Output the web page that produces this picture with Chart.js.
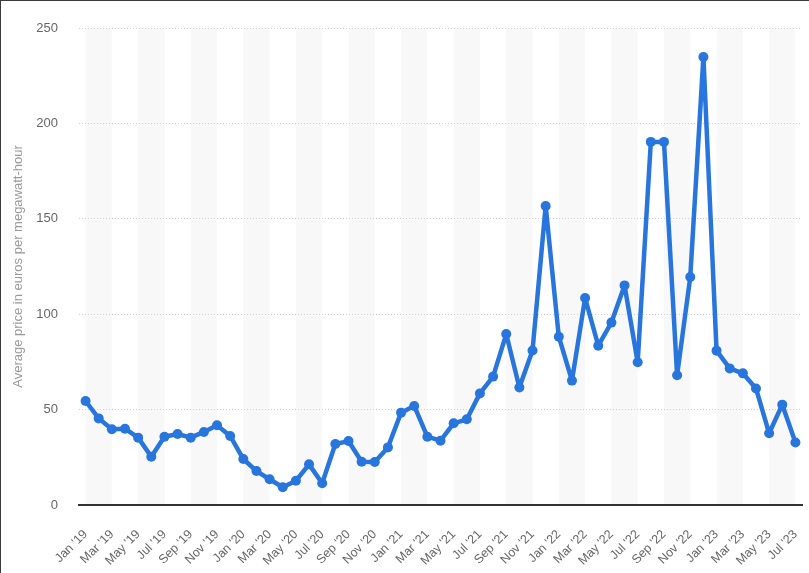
<!DOCTYPE html>
<html>
<head>
<meta charset="utf-8">
<script src="https://cdn.jsdelivr.net/npm/chart.js@4"></script>
<style>
  html, body { margin: 0; padding: 0; background: #fff; }
  #wrap { position: relative; width: 809px; height: 573px; }
  #frame { position: absolute; left: 0; top: 0; right: 0; bottom: 0;
    border-left: 1px solid #3a3a3a; border-top: 1px solid #3a3a3a; pointer-events: none; }
</style>
</head>
<body>
<div id="wrap">
  <canvas id="chart" width="809" height="573"></canvas>
  <div id="frame"></div>
</div>
<script>
// Mesi (Jan '19 - Jul '23)
const months = [
  "Jan '19", "Feb '19", "Mar '19", "Apr '19", "May '19", "Jun '19", "Jul '19", "Aug '19", "Sep '19", "Oct '19", "Nov '19", "Dec '19",
  "Jan '20", "Feb '20", "Mar '20", "Apr '20", "May '20", "Jun '20", "Jul '20", "Aug '20", "Sep '20", "Oct '20", "Nov '20", "Dec '20",
  "Jan '21", "Feb '21", "Mar '21", "Apr '21", "May '21", "Jun '21", "Jul '21", "Aug '21", "Sep '21", "Oct '21", "Nov '21", "Dec '21",
  "Jan '22", "Feb '22", "Mar '22", "Apr '22", "May '22", "Jun '22", "Jul '22", "Aug '22", "Sep '22", "Oct '22", "Nov '22", "Dec '22",
  "Jan '23", "Feb '23", "Mar '23", "Apr '23", "May '23", "Jun '23", "Jul '23"
];

// Prezzo medio (EUR/MWh)
const prices = [
  54.5, 45.4, 39.7, 40.0, 35.3, 25.3, 35.8, 37.2, 35.3, 38.3, 41.8, 36.2,
  24.1, 17.8, 13.5, 9.3, 12.7, 21.3, 11.4, 32.0, 33.5, 22.7, 22.5, 30.2,
  48.4, 51.9, 35.8, 33.7, 42.8, 44.9, 58.5, 67.3, 89.6, 61.6, 81.0, 156.7,
  88.2, 65.2, 108.5, 83.5, 95.6, 115.1, 74.8, 190.3, 190.3, 68.0, 119.5, 234.8,
  80.9, 71.6, 69.0, 61.1, 37.6, 52.6, 32.8
];

const yTicks = [0, 50, 100, 150, 200, 250];
const yTitle = "Average price in euros per megawatt-hour";

const FONT = "'Liberation Sans', Arial, Helvetica, sans-serif";
const LINE_COLOR = "#2876dd";

// ---------- Bande alternate (ogni 2 mesi) ----------
const stripes = {
  id: "stripes",
  beforeDraw(chart) {
    const { ctx, chartArea, scales } = chart;
    const x = scales.x;
    ctx.save();
    ctx.fillStyle = "#f8f8f8";
    for (let i = 0; i + 2 < months.length + 1; i += 4) {
      const x0 = x.getPixelForValue(i);
      const x1 = x.getPixelForValue(Math.min(i + 2, months.length - 1));
      ctx.fillRect(x0, chartArea.top, x1 - x0, chartArea.bottom - chartArea.top);
    }
    ctx.restore();
  },
};

new Chart(document.getElementById("chart"), {
  type: "line",
  data: {
    labels: months,
    datasets: [{
      data: prices,
      borderColor: LINE_COLOR,
      backgroundColor: LINE_COLOR,
      borderWidth: 4.5,
      borderJoinStyle: "round",
      borderCapStyle: "round",
      pointRadius: 5,
      pointBorderWidth: 0,
      pointBackgroundColor: LINE_COLOR,
      tension: 0,
    }],
  },
  options: {
    responsive: false,
    animation: false,
    layout: { padding: { top: 28, right: 7, left: 0, bottom: 0 } },
    plugins: { legend: { display: false }, tooltip: { enabled: false } },
    scales: {
      x: {
        offset: true,
        grid: { display: false, drawTicks: false },
        border: { display: true, color: "#333", width: 2 },
        ticks: {
          autoSkip: false,
          maxRotation: 45,
          minRotation: 45,
          padding: 22,
          color: "#666",
          font: { family: FONT, size: 12.5 },
          callback: (v, i) => (i % 2 === 0 ? months[i] : ""),
        },
        afterFit: (s) => { s.height = 68; s.paddingLeft = 0; s.paddingRight = 0; },
      },
      y: {
        min: 0,
        max: 250,
        afterBuildTicks: (s) => { s.ticks = yTicks.map((v) => ({ value: v })); },
        grid: {
          color: (c) => (c.tick.value === 0 ? "rgba(0,0,0,0)" : "#cfcfcf"),
          lineWidth: 1,
          drawTicks: false,
        },
        border: { display: false, dash: [1, 2] },
        ticks: { padding: 21, color: "#666", font: { family: FONT, size: 13 } },
        title: {
          display: true,
          text: yTitle,
          color: "#999",
          font: { family: FONT, size: 13 },
          padding: { top: 11, bottom: 0 },
        },
        afterFit: (s) => { s.width = 79; s.paddingTop = 0; s.paddingBottom = 0; },
      },
    },
  },
  plugins: [stripes],
});
</script>
</body>
</html>
